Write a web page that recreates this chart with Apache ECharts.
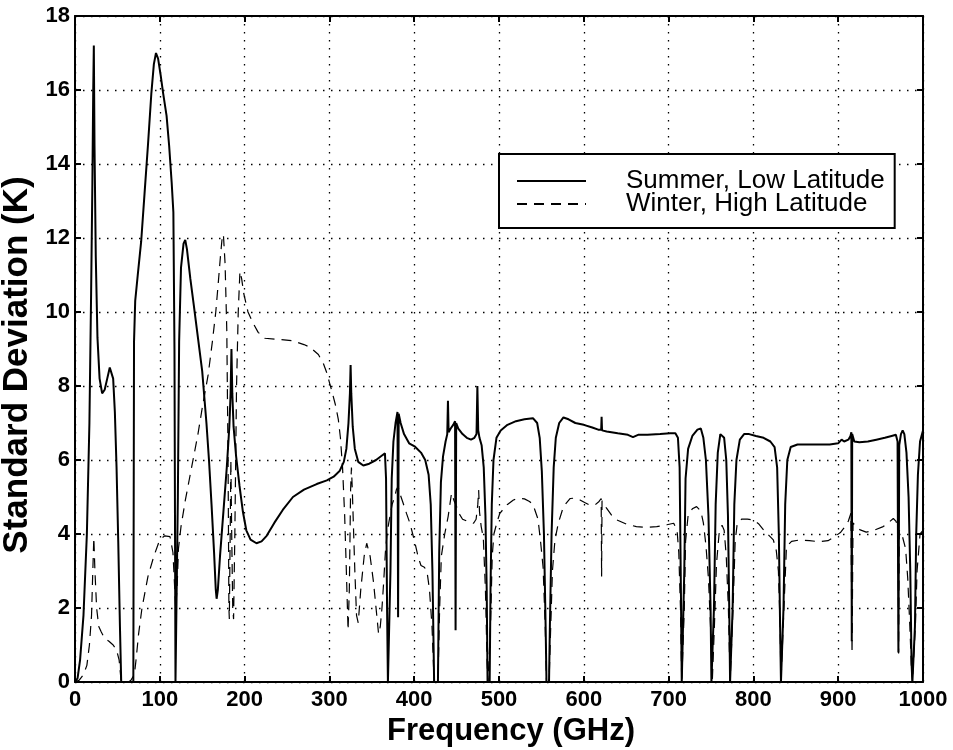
<!DOCTYPE html>
<html>
<head>
<meta charset="utf-8">
<script src="https://cdn.jsdelivr.net/npm/echarts@6/dist/echarts.min.js"></script>
<style>
html,body{margin:0;padding:0;background:#fff;}
#chart{width:953px;height:750px;}
</style>
</head>
<body>
<div id="chart"></div>
<script>
// ---- data ----
var xTicks = [0,100,200,300,400,500,600,700,800,900,1000];
var yTicks = [0,2,4,6,8,10,12,14,16,18];
var seriesNames = ['Summer, Low Latitude', 'Winter, High Latitude'];

var summerFreq = [0,3,6,10,14,17,19,20.5,21.5,22.2,23,24.5,26.5,29,32,35,38,41,43,45,47,49,51,53,54.5,
  68.8,69.6,71,74,78,82,86,90,93,95.5,98,101,104,108,111,114,116,117.3,118.5,120,121.3,122.8,125,128,130,132,136,140,145,150,155,158,161,164,166,167,168.5,171,175,179,182,183.5,184.5,185.5,187,190,194,198,202,207,214,220,226,235,245,257,270,285,297,305,312,317,320,322.5,324.2,325,325.8,327.5,330,334,340,347,355,362,365.5,366.8,368,369,371,372,373.5,375.5,378,380.3,381,381.7,384,388,394,401,408,413,417,419.5,421.5,423.5,428,429.5,431.5,434,437,439,439.8,440.6,443,446,448.2,448.8,449.5,452,457,462,467,471,473.5,474.5,475.5,477,479.5,482,484,485.5,486.5,489,490,491.5,493.5,497,502,510,520,530,540,545,548,550.5,553,555,556,559,560,562,564.5,567,571,576,582,590,600,610,617,620.5,621,621.5,627,640,652,658,664,675,690,702,708,711,713,714.5,715.5,717.5,718.5,720,723,728,734,738,741,744,747,749.5,750.5,752.5,753.5,755.5,758,761,763,765.5,768,770,771.5,772.5,774.5,775.5,777.5,780,784,789,795,803,812,820,825,828,830,831.5,832.5,834.5,835.5,837.5,840,844,852,862,875,890,900,904,907,912,914.5,915.5,916,916.5,919,925,935,945,955,963,968,970,971,972,974,976,978,980.5,983,985,986.5,987.5,989.5,990.5,992,994,996.5,1000];
var summerVal = [0,0.1,0.6,1.8,4.0,7.0,10.5,13.5,16.0,17.2,14.5,11.5,9.3,8.2,7.8,7.9,8.2,8.5,8.55,8.2,7.3,5.8,3.8,1.5,0,
  0,9.2,10.3,11.0,11.9,13.2,14.5,15.9,16.7,17.0,16.85,16.4,15.9,15.3,14.5,13.5,12.7,9,0,0,5,9.2,11.2,11.85,11.95,11.7,10.9,10.2,9.3,8.4,7.0,6.0,4.8,3.5,2.5,2.25,2.5,3.4,4.6,5.8,6.9,7.8,9.0,7.8,6.9,6.1,5.3,4.6,4.1,3.85,3.75,3.8,3.95,4.3,4.65,5.0,5.2,5.35,5.45,5.55,5.7,5.95,6.3,7.0,7.8,8.57,7.8,6.9,6.3,5.95,5.85,5.9,6.0,6.12,6.18,5.5,2.0,0,0,3.0,5.5,6.5,7.0,7.3,1.75,7.25,7.0,6.7,6.45,6.36,6.2,6.0,5.6,4.8,3.0,0,0,3.5,5.4,6.1,6.5,6.7,7.6,6.75,6.85,6.95,7.05,1.4,7.0,6.85,6.7,6.6,6.55,6.6,6.7,8.0,6.8,6.6,6.4,5.8,4.5,2.5,0,0,2.5,4.8,6.0,6.6,6.8,6.95,7.05,7.1,7.13,7.0,6.6,5.7,4.0,1.5,0,0,1.5,4.0,5.8,6.6,7.0,7.15,7.1,7.0,6.95,6.88,6.82,6.82,7.17,6.8,6.77,6.72,6.68,6.62,6.68,6.68,6.7,6.72,6.72,6.6,5.8,2.5,0,0,3.0,5.5,6.3,6.65,6.82,6.85,6.6,6.0,4.5,2.0,0,0,2.0,4.8,6.2,6.7,6.75,6.6,6.0,4.5,2.0,0,0,2.0,4.8,6.0,6.55,6.7,6.7,6.65,6.6,6.5,6.35,5.8,4.0,1.5,0,0,2.0,4.8,6.0,6.35,6.42,6.42,6.42,6.42,6.45,6.55,6.5,6.55,6.65,6.75,1.1,6.7,6.5,6.48,6.5,6.55,6.6,6.65,6.68,6.5,0.8,6.4,6.7,6.8,6.7,6.2,5.0,3.0,0.5,0,0,1.5,4.0,5.6,6.5,6.8];

var winterFreq = [0,5,10,14,17,19.5,21,22.2,23.5,25.5,28,31,35,40,45,49,52,54.5,63,66,70,72,75,79,86,93,100,106,112,115.5,117,118.7,120.5,122,125,130,135,140,145,150,157,162,166,169,171.5,173.5,175,177,179,180.5,181.5,182,183,183.8,184.8,186,187,188.5,190.5,192.5,194.5,196.5,199,204,210,216,224,240,257,270,277,287,293,297,300,303,307,310.5,313,315.5,318,320,322,323.5,325,326,327,330,332,334,337,341,344,348,352,355,358,360,362,364,366,368,370,374,377,379,381,383,387,391,395,401,405,408,412,415,418,421,423.5,428,430,432,436,440,444,447,450,453,457,464,470,473,475,476,477,479,481.5,484,486,487,489,490,492,494,498,501,510,517,523,530,536,540,546,549,552,554.5,556,559,561,563,566,570,576,584,590,595.5,601,607,614,618,620.5,621,621.5,627,633,639,650,662,675,686,698,706,710,712,714,715.5,717.5,718.5,720,723,728,733,738,741,744,747,750,751.5,752.5,754,756.5,759.5,763,765.5,768,770.5,772.5,774.5,776,778.5,781,786,793,800,806,812,818,823.5,827,829.5,831.5,832.5,834.5,836,839,845,855,866,878,888,896,903,908,912,915,916.3,917.5,921,926,933,942,953,960,965,968,970.5,971.2,972,975,977,979.5,982,984.5,986.5,987.5,989.5,991,993,996.5,1000];
var winterVal = [0,0.05,0.2,0.45,1.0,1.8,3.0,3.9,3.0,2.0,1.5,1.35,1.18,1.1,1.0,0.86,0.6,0,0,0.05,0.2,0.6,1.3,2.0,2.85,3.4,3.85,3.95,3.93,3.5,2.8,2.0,2.6,3.6,4.2,4.9,5.5,6.1,6.7,7.4,8.3,9.2,10.0,10.8,11.5,12.0,12.1,11.3,9.5,6.0,2.0,1.7,4.0,6.0,4.0,2.0,1.7,4.0,8.0,10.0,11.1,10.9,10.5,10.0,9.7,9.45,9.29,9.26,9.22,9.12,9.05,8.85,8.6,8.35,8.1,7.85,7.5,7.1,6.6,5.8,4.5,3.0,1.4,2.5,5.2,5.8,5.2,3.0,1.8,1.6,2.5,3.4,3.75,3.4,2.7,2.0,1.3,1.5,2.0,2.7,3.5,4.0,4.3,4.8,5.0,5.2,5.28,5.1,4.83,4.55,4.29,3.75,3.35,3.15,3.1,3.0,2.5,1.5,0,0,2.0,3.4,4.0,4.47,5.1,4.9,4.74,4.55,4.4,4.33,4.29,4.4,4.8,5.19,4.6,4.2,3.9,2.5,0.5,0,0,1.5,3.4,4.0,4.35,4.56,4.8,4.92,4.96,4.95,4.88,4.8,4.4,3.8,3.1,1.5,0,0,1.5,3.0,3.84,4.3,4.74,4.96,4.97,4.92,4.85,4.78,4.8,4.88,4.96,2.85,4.9,4.69,4.5,4.38,4.27,4.2,4.18,4.2,4.25,4.29,4.1,3.5,2.0,0,0,2.0,3.8,4.5,4.68,4.74,4.62,4.3,3.7,2.8,1.2,0,0,1.5,3.2,4.0,4.24,4.1,3.4,2.0,0,0,2.0,3.8,4.3,4.4,4.4,4.38,4.28,4.11,3.97,3.84,3.55,3.0,1.5,0,0,2.0,3.66,3.8,3.84,3.82,3.79,3.82,3.93,4.05,4.2,4.35,4.56,0.77,4.3,4.2,4.11,4.05,4.1,4.2,4.32,4.42,4.35,4.2,0.77,4.1,4.0,4.0,3.6,2.8,1.5,0.3,0,0,1.5,3.0,4.0,4.1];

function zip(a, b) { var r = []; for (var i = 0; i < a.length; i++) r.push([a[i], b[i]]); return r; }

var FONT = "'Liberation Sans', Arial, Helvetica, sans-serif";
var chart = echarts.init(document.getElementById('chart'), null, {renderer: 'canvas'});

var dotted = {color: '#000', width: 1.3, type: [1.5, 6.5]};
function xAx(pos, show) {
  return {
    type: 'value', position: pos, min: xTicks[0], max: xTicks[xTicks.length - 1], interval: xTicks[1] - xTicks[0],
    axisLine: {show: true, onZero: false, lineStyle: {color: '#000', width: 2}},
    axisTick: {show: true, inside: true, length: 6, lineStyle: {color: '#000', width: 2}},
    axisLabel: {show: show, color: '#000', fontFamily: FONT, fontWeight: 'bold', fontSize: 22, margin: 7,
                formatter: function (v) { return String(v); }},
    splitLine: {show: show, lineStyle: dotted},
    name: show ? 'Frequency (GHz)' : '', nameLocation: 'middle', nameGap: 33,
    nameTextStyle: {color: '#000', fontFamily: FONT, fontWeight: 'bold', fontSize: 31, padding: [0, 0, 0, 24]}
  };
}
function yAx(pos, show) {
  return {
    type: 'value', position: pos, min: yTicks[0], max: yTicks[yTicks.length - 1], interval: yTicks[1] - yTicks[0],
    axisLine: {show: true, onZero: false, lineStyle: {color: '#000', width: 2}},
    axisTick: {show: true, inside: true, length: 6, lineStyle: {color: '#000', width: 2}},
    axisLabel: {show: show, color: '#000', fontFamily: FONT, fontWeight: 'bold', fontSize: 22, margin: 5,
                formatter: function (v) { return String(v); }},
    splitLine: {show: show, lineStyle: dotted},
    name: show ? 'Standard Deviation (K)' : '', nameLocation: 'middle', nameGap: 30,
    nameTextStyle: {color: '#000', fontFamily: FONT, fontWeight: 'bold', fontSize: 35, padding: [0, 32, 0, 0]}
  };
}

chart.setOption({
  animation: false,
  backgroundColor: '#fff',
  grid: {left: 75, right: 30, top: 16, bottom: 68, containLabel: false, outerBoundsMode: 'none'},
  xAxis: [xAx('bottom', true), xAx('top', false)],
  yAxis: [yAx('left', true), yAx('right', false)],
  legend: {
    show: true, orient: 'vertical', left: 499, top: 154,
    itemWidth: 69, itemHeight: 14, itemGap: -3,
    backgroundColor: '#fff', borderColor: '#000', borderWidth: 2,
    padding: [14, 10, 11, 17],
    data: seriesNames,
    itemStyle: {opacity: 0},
    textStyle: {color: '#000', fontFamily: FONT, fontSize: 26, padding: [0, 0, 0, 35]},
    z: 10
  },
  series: [
    {name: seriesNames[0], type: 'line', data: zip(summerFreq, summerVal), showSymbol: false, symbol: 'none',
     lineStyle: {color: '#000', width: 2}, itemStyle: {color: '#000'}, clip: true, z: 3},
    {name: seriesNames[1], type: 'line', data: zip(winterFreq, winterVal), showSymbol: false, symbol: 'none',
     lineStyle: {color: '#000', width: 1.2, type: [10, 7]}, itemStyle: {color: '#000'}, clip: true, z: 2}
  ]
});
</script>
</body>
</html>
